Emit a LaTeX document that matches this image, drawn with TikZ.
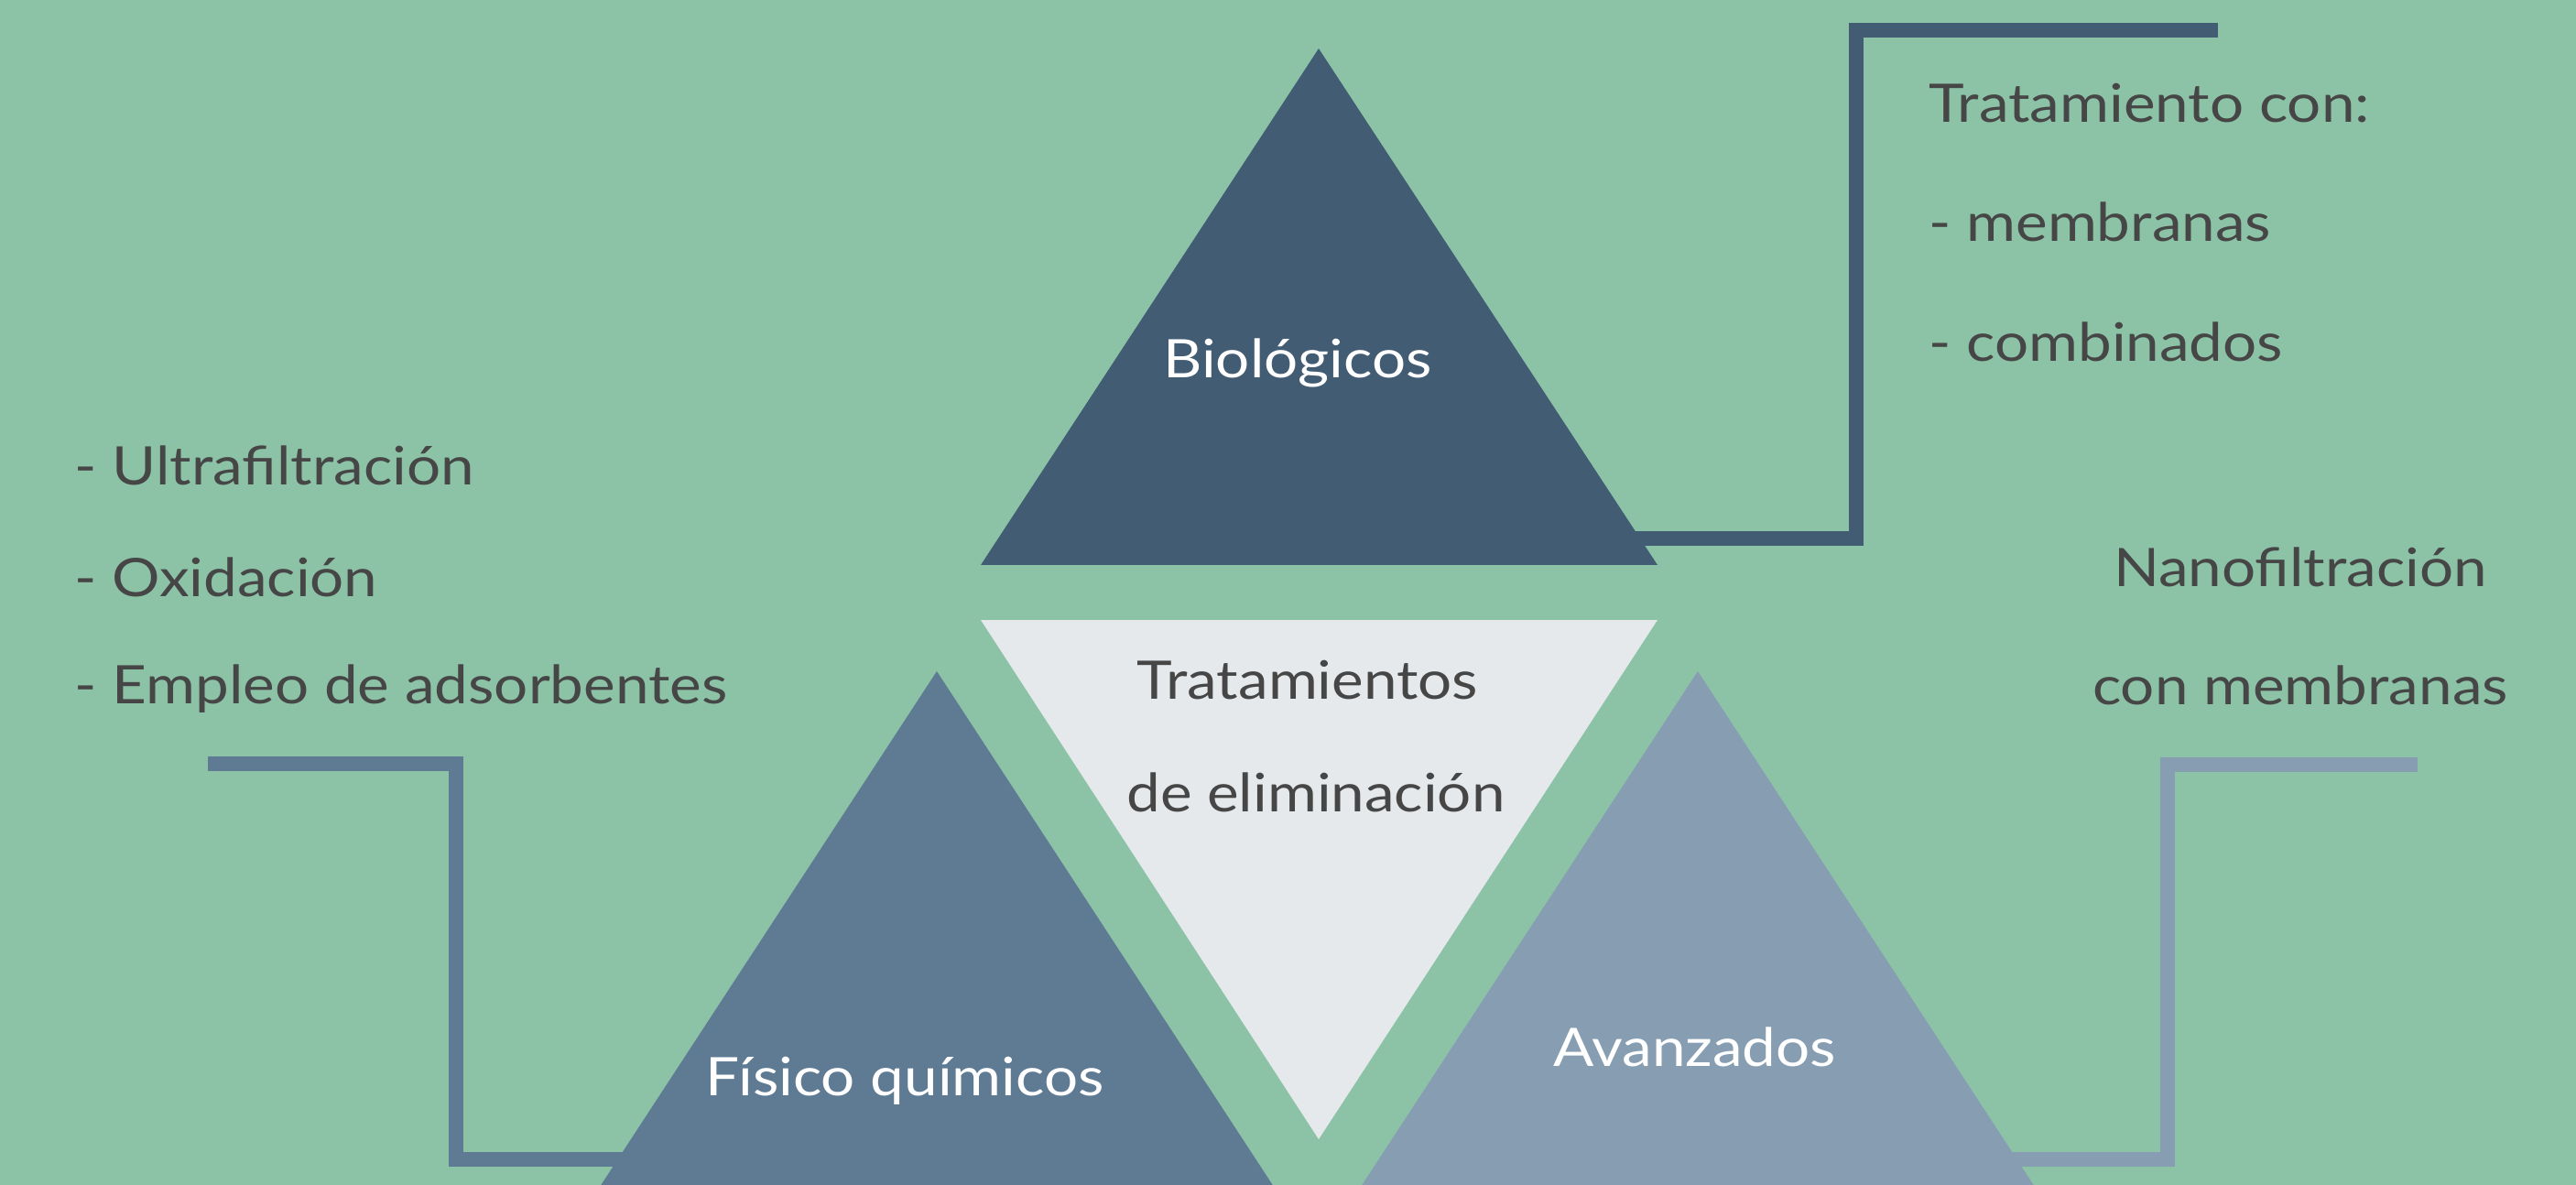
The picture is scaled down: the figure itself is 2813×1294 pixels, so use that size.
\documentclass[tikz,border=0pt]{standalone}
\usepackage{fontspec}
\setmainfont{Lato}[FakeStretch=1.13]
\definecolor{bg}{RGB}{140,195,167}
\definecolor{darktri}{RGB}{66,92,116}
\definecolor{midtri}{RGB}{95,123,148}
\definecolor{lighttri}{RGB}{135,158,178}
\definecolor{pale}{RGB}{229,233,236}
\definecolor{txt}{RGB}{70,70,70}
\begin{document}
\begin{tikzpicture}[x=0.5pt,y=-0.5pt,
  conn/.style={line width=8pt, line join=miter},
  dtext/.style={text=txt, font=\fontsize{29}{34}\selectfont, inner sep=0pt},
  wtext/.style={text=white, font=\fontsize{29}{34}\selectfont, inner sep=0pt}]
\useasboundingbox (0,0) rectangle (2813,1294);
\clip (0,0) rectangle (2813,1294);
\fill[bg] (0,0) rectangle (2813,1294);
% triangle corners
\coordinate (bioA) at (1440,53);
\coordinate (bioL) at (1071,617);
\coordinate (bioR) at (1810,617);
\coordinate (tratL) at (1071,677);
\coordinate (tratR) at (1810,677);
\coordinate (tratB) at (1440,1244);
\coordinate (fisA) at (1023,733);
\coordinate (fisL) at (653,1299);
\coordinate (fisR) at (1393,1299);
\coordinate (avaA) at (1854,733);
\coordinate (avaL) at (1484,1299);
\coordinate (avaR) at (2224,1299);
% connectors (behind triangles)
\coordinate (c1a) at (2422,33);
\coordinate (c1b) at (2027,33);
\coordinate (c1c) at (2027,588);
\coordinate (c1d) at (1770,588);
\draw[conn, darktri] (c1a) -- (c1b) -- (c1c) -- (c1d);
\coordinate (c2a) at (227,834);
\coordinate (c2b) at (498,834);
\coordinate (c2c) at (498,1266);
\coordinate (c2d) at (720,1266);
\draw[conn, midtri] (c2a) -- (c2b) -- (c2c) -- (c2d);
\coordinate (c3a) at (2640,835);
\coordinate (c3b) at (2367,835);
\coordinate (c3c) at (2367,1266);
\coordinate (c3d) at (2180,1266);
\draw[conn, lighttri] (c3a) -- (c3b) -- (c3c) -- (c3d);
% triangles
\fill[darktri] (bioA) -- (bioL) -- (bioR) -- cycle;
\fill[pale] (tratL) -- (tratR) -- (tratB) -- cycle;
\fill[midtri] (fisA) -- (fisL) -- (fisR) -- cycle;
\fill[lighttri] (avaA) -- (avaL) -- (avaR) -- cycle;
% labels
\node[wtext] (bio) at (1417,396) {Biológicos};
\node[dtext] (trat1) at (1428,743) {Tratamientos};
\node[dtext] (trat2) at (1437,865) {de eliminación};
\node[wtext] (fis) at (988,1180) {Físico químicos};
\node[wtext] (ava) at (1851,1143) {Avanzados};
% lists
\node[dtext, anchor=west] (l1) at (81,508) {- Ultrafiltración};
\node[dtext, anchor=west] (l2) at (81,630) {- Oxidación};
\node[dtext, anchor=west] (l3) at (81,752) {- Empleo de adsorbentes};
\node[dtext, anchor=west] (r1) at (2106,113) {Tratamiento con:};
\node[dtext, anchor=west] (r2) at (2106,242) {- membranas};
\node[dtext, anchor=west] (r3) at (2106,373) {- combinados};
\node[dtext] (n1) at (2512,619) {Nanofiltración};
\node[dtext] (n2) at (2512,748) {con membranas};
\end{tikzpicture}
\end{document}
